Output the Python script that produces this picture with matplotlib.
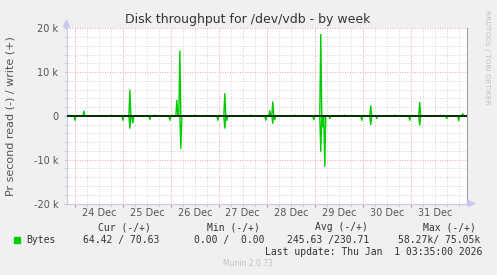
import matplotlib

matplotlib.use('Agg')
import matplotlib.pyplot as plt
import matplotlib.transforms as mtransforms
import numpy as np

# Время в часах от 24 Dec 00:00, шаг 30 минут (недельный график Munin)
t_start = -4.5
t_end = 196.0

# Пики записи (+): час, байт/с
write_hours = [-3.0, 4.3, 18.0, 27.3, 40.0, 51.0, 52.3, 60.0, 75.2, 88.0, 97.5, 98.8, 110.0,
               123.2, 135.0, 148.2, 160.0, 172.3, 183.0, 194.0]
write_vals = [150, 1100, 150, 5900, 150, 3600, 14800, 150, 5100, 150, 1200, 3200, 150,
              18600, 150, 2300, 150, 3100, 150, 500]

# Пики чтения (-): час, байт/с (рисуются со знаком минус)
read_hours = [-0.2, 23.8, 27.3, 28.8, 37.3, 47.7, 52.8, 71.7, 75.2, 76.2, 95.7, 98.8, 100.2,
              119.3, 123.2, 124.0, 124.8, 127.7, 143.5, 148.2, 151.2, 167.7, 172.3, 186.0, 191.8]
read_vals = [1000, 1000, 2800, 1600, 800, 1000, 7400, 1000, 2800, 1000, 1000, 1700, 800,
             900, 8100, 2500, 11500, 600, 1000, 2000, 600, 1000, 2100, 600, 1100]

days = ['24 Dec', '25 Dec', '26 Dec', '27 Dec', '28 Dec', '29 Dec', '30 Dec', '31 Dec']

W, H = 497, 275
BG = '#F0F0F0'
GREEN = '#00CC00'
MONO = 'DejaVu Sans Mono'


def build_series(hours, vals):
    t = np.arange(t_start, t_end + 0.01, 0.5)
    y = np.zeros_like(t)
    for h, v in zip(hours, vals):
        y[int(round((h - t_start) / 0.5))] = v
    return t, y


fig = plt.figure(figsize=(W / 100, H / 100), dpi=100, facecolor=BG)
ax = fig.add_axes([66.5 / W, 1 - 203.5 / H, (466.7 - 66.5) / W, (203.5 - 28.3) / H])
ax.set_facecolor('white')
ax.set_xlim(t_start + 0.3, t_end)
ax.set_ylim(-20000, 20000)

# Сетка: серые каждые 6 ч / 2k, красные по дням / 10k
ax.set_xticks([d * 24 for d in range(len(days))])
ax.set_xticks(np.arange(0.0, t_end, 6), minor=True)
ax.set_yticks([-20000, -10000, 0, 10000, 20000])
ax.set_yticks(np.arange(-20000, 20001, 2000), minor=True)
ax.grid(which='minor', color='#C8C8C8', linestyle=(0, (1, 2)), linewidth=0.6)
ax.grid(which='major', color='#F08080', linestyle=(0, (1, 2)), linewidth=0.6)
ax.set_axisbelow(True)

ax.tick_params(axis='x', which='both', length=2, labelbottom=False, color='#F08080')
ax.tick_params(axis='x', which='minor', color='#C8C8C8')
ax.tick_params(axis='y', which='both', length=2, color='#C8C8C8', labelsize=7,
               labelcolor='#555555', pad=4)
ax.set_yticklabels(['-20 k', '-10 k', '0', '10 k', '20 k'])

ax.spines['top'].set_visible(False)
ax.spines['right'].set_color('#A0A0A0')
ax.spines['right'].set_linewidth(0.8)
ax.spines['left'].set_color('#C8C8F0')
ax.spines['bottom'].set_color('#C8C8F0')

tw, yw = build_series(write_hours, write_vals)
tr, yr = build_series(read_hours, read_vals)
ax.plot(tw, yw, color=GREEN, linewidth=1.0, zorder=3)
ax.plot(tr, -yr, color=GREEN, linewidth=1.0, zorder=3)
ax.axhline(0, color='black', linewidth=1.1, zorder=4)

# Подписи дней посередине суток
trans = mtransforms.blended_transform_factory(ax.transData, fig.transFigure)
for i, d in enumerate(days):
    ax.text(i * 24 + 12, 1 - 212.7 / H, d, transform=trans, ha='center', va='center',
            fontsize=7, color='#555555')

# Стрелки осей
fig.patches.append(plt.Polygon([[63.5 / W, 1 - 27 / H], [69.5 / W, 1 - 27 / H], [66.5 / W, 1 - 20 / H]],
                               closed=True, color='#C8C8F0', transform=fig.transFigure))
fig.patches.append(plt.Polygon([[468 / W, 1 - 200.5 / H], [468 / W, 1 - 206.5 / H], [475 / W, 1 - 203.5 / H]],
                               closed=True, color='#C8C8F0', transform=fig.transFigure))

fig.text(248 / W, 1 - 19.3 / H, 'Disk throughput for /dev/vdb - by week', ha='center', va='center',
         fontsize=9, color='#333333')
fig.text(11 / W, 1 - 116 / H, 'Pr second read (-) / write (+)', rotation=90, ha='center', va='center',
         fontsize=8, color='#555555')
fig.text(487 / W, 1 - 57 / H, 'RRDTOOL / TOBI OETIKER', rotation=270, ha='center', va='center',
         fontsize=5.3, color='#C0C0C0')

# Легенда
fig.patches.append(plt.Rectangle((14 / W, 1 - 242.7 / H), 6 / W, 6 / H, color=GREEN,
                                 transform=fig.transFigure))
row = 1 - 239.7 / H
hdr = 1 - 227.3 / H
fig.text(26.7 / W, row, 'Bytes', ha='left', va='center', fontsize=7, family=MONO, color='#333333')
for cx, label in [(124.7, 'Cur (-/+)'), (233, 'Min (-/+)'), (341.7, 'Avg (-/+)'), (449.3, 'Max (-/+)')]:
    fig.text(cx / W, hdr, label, ha='center', va='center', fontsize=7, family=MONO, color='#333333')
for x0, label in [(82.7, '64.42 / 70.63'), (194, '0.00 /  0.00'), (287.3, '245.63 /230.71'),
                  (398.3, '58.27k/ 75.05k')]:
    fig.text(x0 / W, row, label, ha='left', va='center', fontsize=7, family=MONO, color='#333333')
fig.text(482.7 / W, 1 - 251.7 / H, 'Last update: Thu Jan  1 03:35:00 2026', ha='right', va='center',
         fontsize=7, family=MONO, color='#333333')
fig.text(247.7 / W, 1 - 264 / H, 'Munin 2.0.73', ha='center', va='center', fontsize=5.5,
         color='#C0C0C0')

fig.savefig('out.png', dpi=100, facecolor=BG)
